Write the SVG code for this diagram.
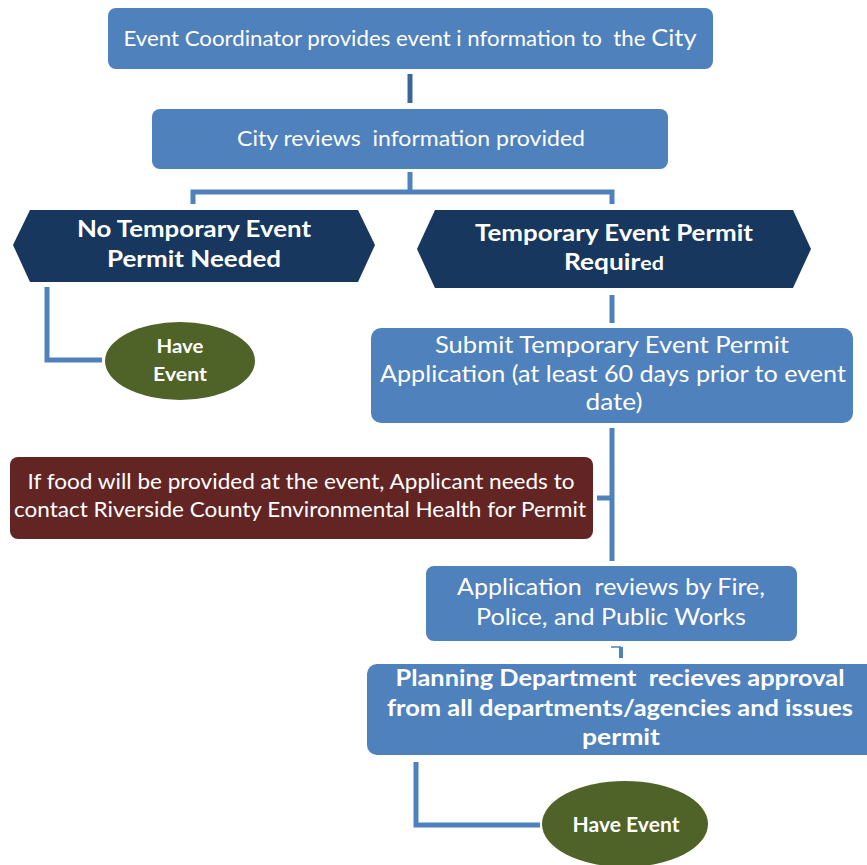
<svg xmlns="http://www.w3.org/2000/svg" width="867" height="865" viewBox="0 0 867 865" xml:space="preserve">
<style>
.box{fill:#4F81BD;}
.hex{fill:#17375E;}
.oval{fill:#4F6228;}
.food{fill:#632523;}
text{font-family:Lato,"Open Sans","Liberation Sans",sans-serif;fill:#FFFFFF;text-anchor:middle;white-space:pre;}
.r{font-size:21px;}
.b{font-weight:bold;}
.con{fill:none;stroke:#4F81BD;stroke-width:5;}
</style>
<rect width="867" height="865" fill="#FFFFFF"/>
<g id="connectors">
<line class="con" x1="410" y1="74" x2="410" y2="103" style="stroke:#3E6597"/>
<polyline class="con" points="410,172 410,192"/>
<polyline class="con" points="193,204 193,192 612,192 612,204"/>
<polyline class="con" points="47,287 47,360 102,360"/>
<line class="con" x1="612" y1="295" x2="612" y2="323"/>
<line class="con" x1="612" y1="428" x2="612" y2="561"/>
<line class="con" x1="597" y1="498" x2="612" y2="498"/>
<polyline fill="none" stroke="#4F81BD" stroke-width="1.5" points="611,647 621,647"/>
<line class="con" x1="621" y1="647" x2="621" y2="658" style="stroke-width:4"/>
<polyline class="con" points="416,762 416,825 540,825"/>
</g>
<g id="n1">
<rect class="box" x="108" y="8" width="605" height="61" rx="8"/>
<text class="r" x="410" y="46" textLength="573" lengthAdjust="spacingAndGlyphs">Event Coordinator provides event i nformation to  the <tspan style="font-size:24px">City</tspan></text>
</g>
<g id="n2">
<rect class="box" x="152" y="109" width="516" height="60" rx="8"/>
<text class="r" x="411" y="146" textLength="348" lengthAdjust="spacingAndGlyphs">City reviews  information provided</text>
</g>
<g id="n3">
<polygon class="hex" points="13,245 30,210 358,210 375,245 358,282 30,282"/>
<text class="b" x="194" y="237" font-size="22" textLength="234" lengthAdjust="spacingAndGlyphs">No Temporary Event</text>
<text class="b" x="194" y="267" font-size="22" textLength="174" lengthAdjust="spacingAndGlyphs">Permit Needed</text>
</g>
<g id="n4">
<polygon class="hex" points="417,249 435,210 793,210 811,249 793,288 435,288"/>
<text class="b" x="614" y="241" font-size="22" textLength="278" lengthAdjust="spacingAndGlyphs">Temporary Event Permit</text>
<text class="b" x="614" y="270" font-size="22" textLength="100" lengthAdjust="spacingAndGlyphs">Requir<tspan font-size="18">ed</tspan></text>
</g>
<g id="n5">
<ellipse class="oval" cx="180" cy="361" rx="75" ry="39"/>
<text class="b" x="180" y="353" font-size="18" textLength="47" lengthAdjust="spacingAndGlyphs">Have</text>
<text class="b" x="180" y="381" font-size="18" textLength="54" lengthAdjust="spacingAndGlyphs">Event</text>
</g>
<g id="n6">
<rect class="box" x="371" y="328" width="482" height="95" rx="10"/>
<text x="612" y="353" font-size="23" textLength="354" lengthAdjust="spacingAndGlyphs">Submit Temporary Event Permit</text>
<text x="613" y="382" font-size="23" textLength="466" lengthAdjust="spacingAndGlyphs">Application (at least 60 days prior to event</text>
<text x="614" y="410" font-size="23" textLength="57" lengthAdjust="spacingAndGlyphs">date)</text>
</g>
<g id="n7">
<rect class="food" x="10" y="457" width="583" height="82" rx="8"/>
<text x="301" y="489" font-size="21" textLength="547" lengthAdjust="spacingAndGlyphs">If food will be provided at the event, Applicant needs to</text>
<text x="300" y="517" font-size="21" textLength="572" lengthAdjust="spacingAndGlyphs">contact Riverside County Environmental Health for Permit</text>
</g>
<g id="n8">
<rect class="box" x="426" y="566" width="371" height="75" rx="8"/>
<text x="611" y="595" font-size="23" textLength="308" lengthAdjust="spacingAndGlyphs">Application  reviews by Fire,</text>
<text x="611" y="625" font-size="23" textLength="270" lengthAdjust="spacingAndGlyphs">Police, and Public Works</text>
</g>
<g id="n9">
<rect class="box" x="367" y="664" width="520" height="91" rx="10"/>
<text class="b" x="620" y="686" font-size="22" textLength="449" lengthAdjust="spacingAndGlyphs">Planning Department  recieves approval</text>
<text class="b" x="620" y="716" font-size="22" textLength="466" lengthAdjust="spacingAndGlyphs">from all departments/agencies and issues</text>
<text class="b" x="621" y="745" font-size="22" textLength="78" lengthAdjust="spacingAndGlyphs">permit</text>
</g>
<g id="n10">
<ellipse class="oval" cx="625" cy="824" rx="83" ry="43"/>
<text class="b" x="626" y="832" font-size="20" textLength="107" lengthAdjust="spacingAndGlyphs">Have Event</text>
</g>
</svg>
